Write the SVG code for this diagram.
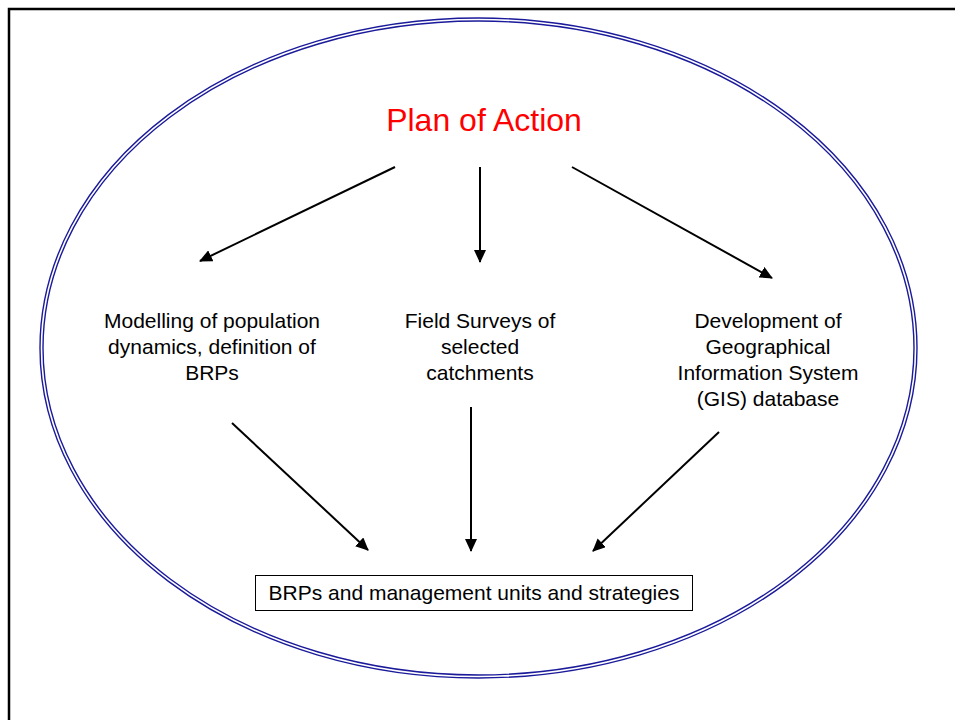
<svg xmlns="http://www.w3.org/2000/svg" width="955" height="720" viewBox="0 0 955 720">
<defs>
<marker id="ah" markerWidth="13" markerHeight="12" refX="12" refY="6" orient="auto" markerUnits="userSpaceOnUse" viewBox="0 0 13 12">
<path d="M0,0 L13,6 L0,12 z" fill="#000"/>
</marker>
<style>
.t{font-family:"Liberation Sans",Arial,sans-serif;font-size:21px;fill:#000;text-anchor:middle}
.c line{stroke:#000;stroke-width:2;marker-end:url(#ah)}
.ell{fill:none;stroke:#1a1a9a;stroke-width:1.4}
</style>
</defs>
<rect x="0" y="0" width="955" height="720" fill="#fff"/>
<rect x="9" y="9" width="960" height="730" fill="none" stroke="#000" stroke-width="2.5"/>
<g id="ellipse">
<ellipse class="ell" cx="478.5" cy="348" rx="438.5" ry="330"/>
<ellipse class="ell" cx="478.5" cy="348" rx="435.5" ry="327"/>
</g>
<g id="title"><text x="484" y="131" style="font-family:'Liberation Sans',Arial,sans-serif;font-size:32px;fill:#ff0000;text-anchor:middle">Plan of Action</text></g>
<g id="modelling">
<text class="t" x="212" y="328">Modelling of population</text>
<text class="t" x="212" y="354">dynamics, definition of</text>
<text class="t" x="212" y="380">BRPs</text>
</g>
<g id="field">
<text class="t" x="480" y="328">Field Surveys of</text>
<text class="t" x="480" y="354">selected</text>
<text class="t" x="480" y="380">catchments</text>
</g>
<g id="gis">
<text class="t" x="768" y="328">Development of</text>
<text class="t" x="768" y="354">Geographical</text>
<text class="t" x="768" y="380">Information System</text>
<text class="t" x="768" y="406">(GIS) database</text>
</g>
<g id="result">
<rect x="255.5" y="575.5" width="437" height="35" fill="#fff" stroke="#000" stroke-width="1"/>
<text class="t" x="474" y="600">BRPs and management units and strategies</text>
</g>
<g class="c" id="connectors">
<line x1="395" y1="167" x2="200" y2="261"/>
<line x1="480" y1="167" x2="480" y2="262"/>
<line x1="572" y1="167" x2="772" y2="278"/>
<line x1="232" y1="423" x2="368" y2="550"/>
<line x1="471" y1="407" x2="471" y2="551"/>
<line x1="719" y1="432" x2="593" y2="551"/>
</g>
</svg>
